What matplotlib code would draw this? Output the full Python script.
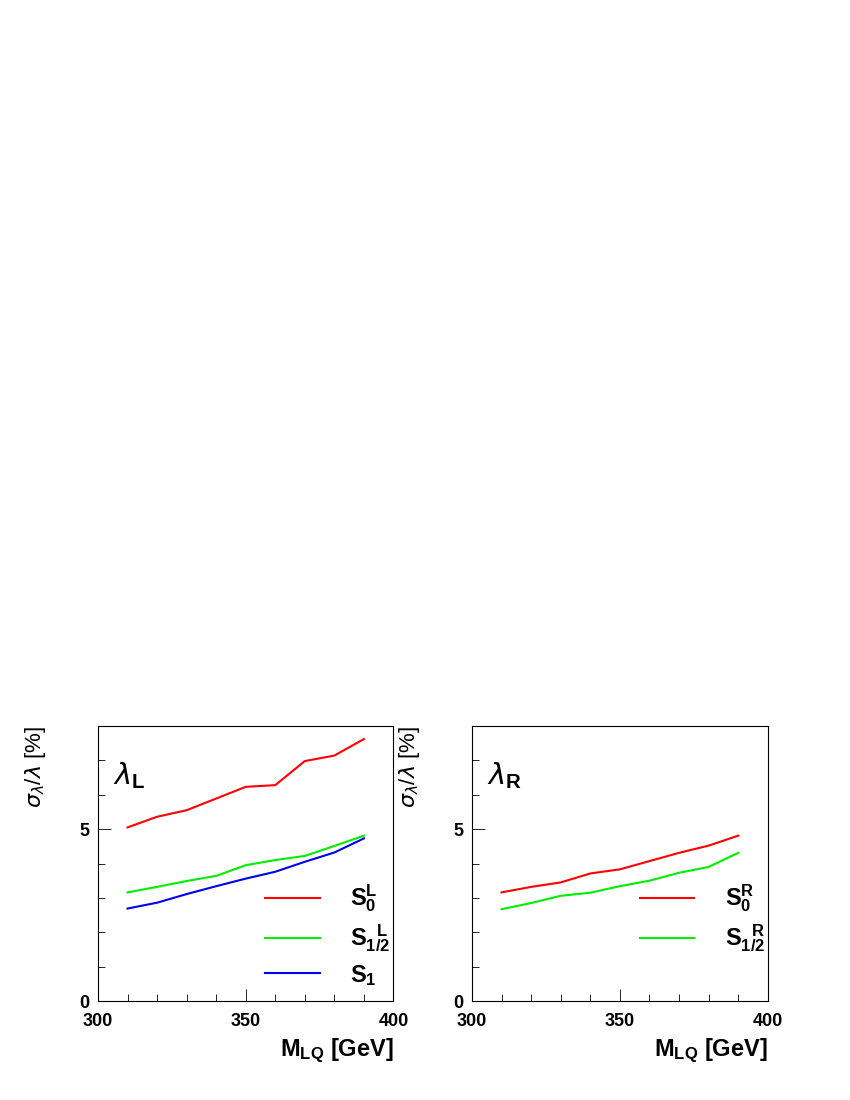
import matplotlib
matplotlib.use("Agg")
import matplotlib.pyplot as plt
from matplotlib.ticker import MultipleLocator

plt.rcParams["font.family"] = "Liberation Sans"
plt.rcParams["mathtext.fontset"] = "custom"
plt.rcParams["mathtext.rm"] = "Liberation Sans"
plt.rcParams["mathtext.bf"] = "Liberation Sans:bold"

# masses in GeV
mass = [310, 320, 330, 340, 350, 360, 370, 380, 390]

# left panel (lambda_L)
s0_L = [5.05, 5.36, 5.55, 5.89, 6.23, 6.28, 6.98, 7.14, 7.62]
s12_L = [3.16, 3.32, 3.49, 3.64, 3.95, 4.10, 4.22, 4.51, 4.81]
s1_L = [2.69, 2.86, 3.11, 3.34, 3.56, 3.76, 4.05, 4.32, 4.73]

# right panel (lambda_R)
s0_R = [3.16, 3.32, 3.45, 3.71, 3.83, 4.07, 4.31, 4.52, 4.81]
s12_R = [2.67, 2.85, 3.06, 3.15, 3.34, 3.50, 3.73, 3.90, 4.31]

fig = plt.figure(figsize=(8.5, 11), dpi=100)
ax_l = fig.add_axes([0.1153, 0.09, 0.3476, 0.25])
ax_r = fig.add_axes([0.5553, 0.09, 0.348, 0.25])


def style(ax, tag):
    ax.set_xlim(300, 400)
    ax.set_ylim(0, 8)
    ax.xaxis.set_major_locator(MultipleLocator(50))
    ax.xaxis.set_minor_locator(MultipleLocator(10))
    ax.yaxis.set_major_locator(MultipleLocator(5))
    ax.yaxis.set_minor_locator(MultipleLocator(1))
    ax.tick_params(which="both", direction="in", top=False, right=False,
                   labelsize=13, width=0.6)
    ax.tick_params(which="major", length=9)
    ax.tick_params(which="minor", length=5)
    ax.tick_params(axis="x", pad=9)
    ax.tick_params(axis="y", pad=6)
    for lab in ax.get_xticklabels() + ax.get_yticklabels():
        lab.set_fontweight("bold")
    for s in ax.spines.values():
        s.set_linewidth(0.8)
    ax.set_xlabel(r"$\mathbf{M_{LQ}}$ [GeV]", fontsize=17, fontweight="bold")
    ax.xaxis.set_label_coords(1.0, -0.13)
    ax.xaxis.label.set_horizontalalignment("right")
    ax.set_ylabel(r"$\sigma_\lambda/\lambda$ [%]", fontsize=16)
    ax.yaxis.set_label_coords(-0.17, 1.0)
    ax.yaxis.label.set_horizontalalignment("right")
    ax.text(0.05, 0.82, r"$\lambda_{\mathbf{" + tag + "}}$", transform=ax.transAxes,
            fontsize=21, va="center")


style(ax_l, "L")
style(ax_r, "R")

leg_kw = dict(loc="upper left", frameon=False, fontsize=17, handlelength=2.3,
              labelspacing=0.35, handletextpad=1.3, borderpad=0, borderaxespad=0)

ax_l.plot(mass, s0_L, color="#ff0000", lw=1.5, label=r"$\mathbf{S_0^L}$")
ax_l.plot(mass, s12_L, color="#00ee00", lw=1.5, label=r"$\mathbf{S_{1/2}^{\ \ L}}$")
ax_l.plot(mass, s1_L, color="#0000ee", lw=1.5, label=r"$\mathbf{S_1}$")
ax_l.legend(bbox_to_anchor=(0.566, 0.43), **leg_kw)

ax_r.plot(mass, s0_R, color="#ff0000", lw=1.5, label=r"$\mathbf{S_0^R}$")
ax_r.plot(mass, s12_R, color="#00ee00", lw=1.5, label=r"$\mathbf{S_{1/2}^{\ \ R}}$")
ax_r.legend(bbox_to_anchor=(0.568, 0.43), **leg_kw)

fig.savefig("out.png", dpi=100)
